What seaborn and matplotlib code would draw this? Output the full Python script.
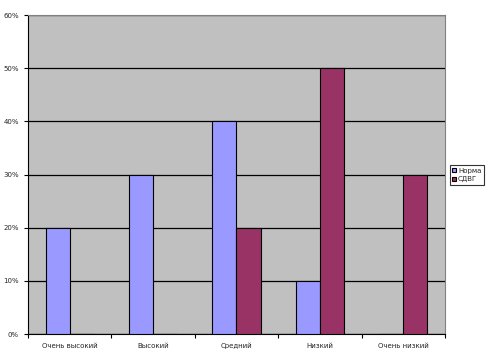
import pandas as pd
import matplotlib.pyplot as plt
import seaborn as sns
from matplotlib.ticker import PercentFormatter, FixedLocator

# ── Data ──────────────────────────────────────────────
categories = ["Очень высокий", "Высокий", "Средний", "Низкий", "Очень низкий"]
norma      = [20, 30, 40, 10, 0]
sdvg       = [0, 0, 20, 50, 30]
groups     = ["Норма", "СДВГ"]
y_ticks    = [0, 10, 20, 30, 40, 50, 60]

df = pd.DataFrame({
    "cat": categories * 2,
    "val": norma + sdvg,
    "grp": [groups[0]] * len(categories) + [groups[1]] * len(categories),
})

sns.set_style("white")
plt.rcParams["font.family"] = ["DejaVu Sans"]

fig = plt.figure(figsize=(4.86, 3.62), dpi=100)
ax = fig.add_axes([0.0576, 0.0773, 0.858, 0.881])
ax.set_facecolor("#C0C0C0")

sns.barplot(data=df, x="cat", y="val", hue="grp", ax=ax,
            palette=["#9999FF", "#993366"], saturation=1, width=0.58, gap=0,
            edgecolor="black", linewidth=0.8, zorder=3)

ax.set_ylim(0, 60)
ax.set_xlim(-0.5, len(categories) - 0.5)
ax.yaxis.set_major_locator(FixedLocator(y_ticks))
ax.yaxis.set_major_formatter(PercentFormatter(decimals=0))
ax.grid(axis="y", color="black", linewidth=0.9, zorder=1)
ax.set_axisbelow(True)
ax.set_xlabel("")
ax.set_ylabel("")

ax.tick_params(axis="both", labelsize=5, length=3, width=0.8, color="black",
               direction="out", bottom=False, left=True)
ax.set_xticks([i - 0.5 for i in range(len(categories) + 1)], minor=True)
ax.tick_params(axis="x", which="minor", length=3, width=0.8, bottom=True, color="black")
ax.tick_params(axis="x", pad=7)
for lbl in ax.get_xticklabels():
    lbl.set_verticalalignment("baseline")

for s in ["top", "right"]:
    ax.spines[s].set_color("#808080")
    ax.spines[s].set_linewidth(0.8)
for s in ["left", "bottom"]:
    ax.spines[s].set_color("black")
    ax.spines[s].set_linewidth(0.8)

leg = fig.legend(*ax.get_legend_handles_labels(), loc="center left",
                 bbox_to_anchor=(450 / 486, 1 - 175 / 362), fontsize=5,
                 frameon=True, fancybox=False, edgecolor="black",
                 handlelength=0.55, handleheight=0.55, handletextpad=0.25,
                 borderpad=0.35, labelspacing=0.35, borderaxespad=0)
leg.get_frame().set_linewidth(0.8)
ax.get_legend().remove()

fig.savefig("out.png", dpi=100, facecolor="white")
